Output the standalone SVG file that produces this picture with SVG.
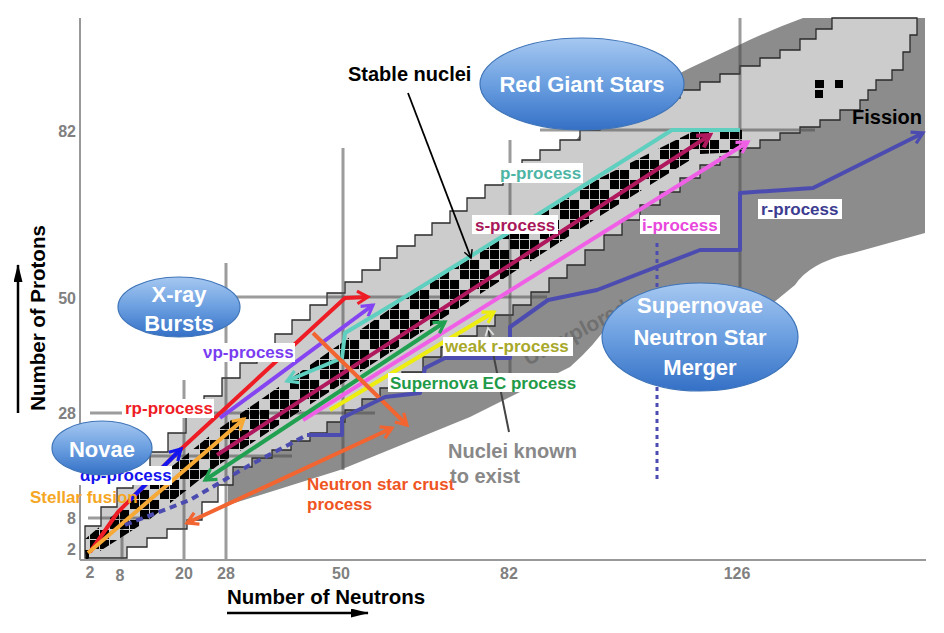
<svg xmlns="http://www.w3.org/2000/svg" width="944" height="633" viewBox="0 0 944 633">
<defs>
<style>
.t{font-family:"Liberation Sans",Arial,sans-serif;font-weight:bold}
.lbl{font-size:17px}
.tick{font-size:16px;fill:#808080}
.magic{stroke:#4a4a4a;stroke-opacity:0.55;stroke-width:3;fill:none}
.proc{fill:none;stroke-width:4;stroke-linejoin:round}
.box{fill:#ffffff}
.bub{fill:url(#bubG);stroke:#3f74b8;stroke-width:1.2}
.bt{font-family:"Liberation Sans",Arial,sans-serif;font-weight:bold;font-size:22px;fill:#ffffff;text-anchor:middle}
.sq{fill:#000}
</style>
<linearGradient id="bubG" x1="0" y1="0" x2="0" y2="1">
<stop offset="0" stop-color="#a6c8f1"/><stop offset="0.5" stop-color="#6b9fe0"/><stop offset="1" stop-color="#3470c6"/>
</linearGradient>
<pattern id="stab" patternUnits="userSpaceOnUse" x="0" y="0" width="40" height="40">
<rect class="sq" x="0" y="0" width="9" height="9"/><rect class="sq" x="10" y="0" width="9" height="9"/><rect class="sq" x="30" y="0" width="9" height="9"/>
<rect class="sq" x="0" y="10" width="9" height="9"/><rect class="sq" x="10" y="10" width="9" height="9"/><rect class="sq" x="20" y="10" width="9" height="9"/>
<rect class="sq" x="10" y="20" width="9" height="9"/><rect class="sq" x="20" y="20" width="9" height="9"/><rect class="sq" x="30" y="20" width="9" height="9"/>
<rect class="sq" x="0" y="30" width="9" height="9"/><rect class="sq" x="20" y="30" width="9" height="9"/><rect class="sq" x="30" y="30" width="9" height="9"/>
</pattern>
<marker id="mRed" viewBox="0 0 20 20" refX="16" refY="10" markerWidth="18" markerHeight="18" markerUnits="userSpaceOnUse" orient="auto-start-reverse"><path d="M4,3 L16,10 L4,17" fill="none" stroke="#ee1c25" stroke-width="3.5"/></marker>
<marker id="mBlue" viewBox="0 0 20 20" refX="16" refY="10" markerWidth="18" markerHeight="18" markerUnits="userSpaceOnUse" orient="auto-start-reverse"><path d="M4,3 L16,10 L4,17" fill="none" stroke="#1515ee" stroke-width="3.5"/></marker>
<marker id="mOrange" viewBox="0 0 20 20" refX="16" refY="10" markerWidth="18" markerHeight="18" markerUnits="userSpaceOnUse" orient="auto-start-reverse"><path d="M4,3 L16,10 L4,17" fill="none" stroke="#f6a935" stroke-width="3.5"/></marker>
<marker id="mPurple" viewBox="0 0 20 20" refX="16" refY="10" markerWidth="18" markerHeight="18" markerUnits="userSpaceOnUse" orient="auto-start-reverse"><path d="M4,3 L16,10 L4,17" fill="none" stroke="#8444f2" stroke-width="3.5"/></marker>
<marker id="mTeal" viewBox="0 0 20 20" refX="16" refY="10" markerWidth="18" markerHeight="18" markerUnits="userSpaceOnUse" orient="auto-start-reverse"><path d="M4,3 L16,10 L4,17" fill="none" stroke="#5fcfbf" stroke-width="3.5"/></marker>
<marker id="mCrim" viewBox="0 0 20 20" refX="16" refY="10" markerWidth="20" markerHeight="20" markerUnits="userSpaceOnUse" orient="auto-start-reverse"><path d="M4,3 L16,10 L4,17" fill="none" stroke="#b0185e" stroke-width="4"/></marker>
<marker id="mMag" viewBox="0 0 20 20" refX="16" refY="10" markerWidth="18" markerHeight="18" markerUnits="userSpaceOnUse" orient="auto-start-reverse"><path d="M4,3 L16,10 L4,17" fill="none" stroke="#f060e6" stroke-width="3.5"/></marker>
<marker id="mYel" viewBox="0 0 20 20" refX="16" refY="10" markerWidth="18" markerHeight="18" markerUnits="userSpaceOnUse" orient="auto-start-reverse"><path d="M4,3 L16,10 L4,17" fill="none" stroke="#eded10" stroke-width="3.5"/></marker>
<marker id="mGreen" viewBox="0 0 20 20" refX="16" refY="10" markerWidth="18" markerHeight="18" markerUnits="userSpaceOnUse" orient="auto-start-reverse"><path d="M4,3 L16,10 L4,17" fill="none" stroke="#20a050" stroke-width="3.5"/></marker>
<marker id="mNs" viewBox="0 0 20 20" refX="16" refY="10" markerWidth="18" markerHeight="18" markerUnits="userSpaceOnUse" orient="auto-start-reverse"><path d="M4,3 L16,10 L4,17" fill="none" stroke="#f26430" stroke-width="3.5"/></marker>
<marker id="mInd" viewBox="0 0 20 20" refX="16" refY="10" markerWidth="18" markerHeight="18" markerUnits="userSpaceOnUse" orient="auto-start-reverse"><path d="M4,3 L16,10 L4,17" fill="none" stroke="#4c4cb0" stroke-width="3.5"/></marker>
<marker id="mBlk" viewBox="0 0 20 20" refX="16" refY="10" markerWidth="12" markerHeight="12" markerUnits="userSpaceOnUse" orient="auto"><path d="M3,3 L16,10 L3,17" fill="none" stroke="#000" stroke-width="2.5"/></marker>
<marker id="mGry" viewBox="0 0 20 20" refX="16" refY="10" markerWidth="12" markerHeight="12" markerUnits="userSpaceOnUse" orient="auto"><path d="M3,3 L16,10 L3,17" fill="none" stroke="#dddddd" stroke-width="3"/></marker>
<marker id="mTri" viewBox="0 0 20 10" refX="19" refY="5" markerWidth="18" markerHeight="9" markerUnits="userSpaceOnUse" orient="auto"><path d="M0,0 L20,5 L0,10 Z" fill="#000"/></marker>
</defs>
<rect x="0" y="0" width="944" height="633" fill="#ffffff"/>

<g id="chart">
<path id="unexplored-region" d="M228,505 L228,445 L350,360 L450,290 L530,200 L580,135 L640,95 Q665,80 690,68 L737,46 Q770,30 803,18 L925,18 L925,233 L853,253 Q810,262 795,285 L740,330 L640,330 L610,322 Q595,345 570,367 L470,417 L340,470 Z" fill="#8c8c8c"/>
<path id="known-band" d="M85,558 L85,545 V526 H101 V507 H117 V488 H133 V470 H150 V452 H168 V433 H186 V415 H204 V396 H222 V378 H240 V363 H257 V349 H275 V334 H292 V320 H310 V305 H327 V293 H345 V282 H362 V270 H380 V258 H397 V246 H415 V235 H432 V223 H450 V211 H467 V198 H485 V185 H503 V172 H522 V160 H540 V150 H560 V140 H580 V130 H600 V122 H620 V114 H640 V106 H660 V98 H680 V90 H700 V82 H720 V74 H740 V66 H760 V58 H780 V50 H800 V39 H816 V29 H832 V18 H917 V35 H910 V52 H903 V70 H892 V80 H876 V90 H868 V100 H860 V110 H840 V120 H820 V127 H800 V133 H780 V140 H760 V148 H740 V157 H720 V165 H700 V178 H680 V192 H660 V205 H640 V220 H622 V235 H604 V250 H585 V265 H567 V278 H549 V292 H531 V305 H513 V315 H495 V326 H477 V336 H459 V347 H441 V357 H423 V372 H402 V388 H380 V399 H362 V410 H345 V422 H327 V433 H310 V441 H291 V450 H272 V458 H252 V467 H233 V485 H218 V502 H202 V520 H187 V529 H167 V538 H147 V547 H127 V558 Z" fill="#cccccc" stroke="#2a2a2a" stroke-width="1.3"/>
<text class="t" font-size="21" fill="#707070" transform="translate(528,366) rotate(-28)">Unexplored</text>
<g id="magic-lines">
<line class="magic" x1="122" y1="513" x2="122" y2="560"/>
<line class="magic" x1="184" y1="380" x2="184" y2="560"/>
<line class="magic" x1="226" y1="263" x2="226" y2="560"/>
<line class="magic" x1="343" y1="148" x2="343" y2="470"/>
<line class="magic" x1="510" y1="140" x2="510" y2="375"/>
<line class="magic" x1="740" y1="18" x2="740" y2="300"/>
<line class="magic" x1="540" y1="130" x2="815" y2="130"/>
<line class="magic" x1="233" y1="297" x2="547" y2="297"/>
<line class="magic" x1="90" y1="413" x2="375" y2="413"/>
<line class="magic" x1="135" y1="456" x2="292" y2="456"/>
<line class="magic" x1="88" y1="518" x2="150" y2="518"/>
</g>
<g id="stable-nuclei">
<path d="M84,540 L150,484 L217,430 L300,372 L400,302 L500,240 L600,178 L700,128 L742,128 L742,152 L700,154 L600,216 L500,281 L400,346 L300,411 L217,466 L150,519 L86,560 Z" fill="url(#stab)"/>
<rect x="815" y="80" width="9" height="8" fill="#000"/>
<rect x="835" y="80" width="8" height="8" fill="#000"/>
<rect x="815" y="90" width="8" height="8" fill="#000"/>
</g>
<g id="axes">
<line x1="80" y1="18" x2="80" y2="560" stroke="#999" stroke-width="2"/>
<line x1="80" y1="560" x2="926" y2="560" stroke="#999" stroke-width="2"/>
<g class="t tick" text-anchor="end">
<text x="76" y="137">82</text><text x="76" y="304">50</text><text x="76" y="419">28</text><text x="76" y="524">8</text><text x="76" y="555">2</text>
</g>
<g class="t tick" text-anchor="middle">
<text x="90" y="578">2</text><text x="120" y="581">8</text><text x="184" y="579">20</text><text x="226" y="579">28</text><text x="341" y="579">50</text><text x="509" y="579">82</text><text x="737" y="579">126</text>
</g>
<text class="t" font-size="20.5" fill="#000" x="227" y="604">Number of Neutrons</text>
<line x1="227" y1="613" x2="368" y2="613" stroke="#000" stroke-width="2.5" marker-end="url(#mTri)"/>
<text class="t" font-size="20.5" fill="#000" text-anchor="middle" transform="translate(45,318) rotate(-90)">Number of Protons</text>
<line x1="18" y1="413" x2="18" y2="265" stroke="#000" stroke-width="2.5" marker-end="url(#mTri)"/>
</g>
</g>

<g id="connectors">
<path class="proc" stroke="#ee1c25" d="M90,552 L118,512 L180,450 L345,298 L368,297" marker-end="url(#mRed)"/>
<path class="proc" stroke="#1515ee" d="M130,500 L181,449" marker-end="url(#mBlue)"/>
<path class="proc" stroke="#f6a935" d="M88,553 L244,419" marker-end="url(#mOrange)"/>
<path class="proc" stroke="#8444f2" d="M220,418 L373,305" marker-end="url(#mPurple)"/>
<path class="proc" stroke="#5fcfbf" d="M740,130 L672,130 L545,210 L400,300 L345,333 L342,358 L287,381" marker-end="url(#mTeal)"/>
<path class="proc" stroke="#b0185e" stroke-width="5" d="M217,455 L710,135" marker-end="url(#mCrim)"/>
<path class="proc" stroke="#f060e6" d="M303,420 L748,142" marker-end="url(#mMag)"/>
<path class="proc" stroke="#eded10" d="M330,410 L494,312" marker-end="url(#mYel)"/>
<path class="proc" stroke="#20a050" d="M205,480 L445,322" marker-start="url(#mGreen)" marker-end="url(#mGreen)"/>
<path class="proc" stroke="#f26430" stroke-width="3.5" d="M313,333 L407,425" marker-end="url(#mNs)"/>
<path class="proc" stroke="#f26430" stroke-width="3.5" d="M187,523 L392,428" marker-start="url(#mNs)" marker-end="url(#mNs)"/>
<path class="proc" stroke="#4c4cb0" stroke-width="3.5" stroke-dasharray="7 5" d="M125,525 L190,500 L250,465 L307,435"/>
<path class="proc" stroke="#4c4cb0" stroke-width="3.5" d="M307,435 L342,435 L342,418 L385,397 L420,393 L425,368 L445,358 L510,358 L510,327 L548,300 L597,290 L700,250 L740,250 L740,193 L813,188 L923,133" marker-end="url(#mInd)"/>
<line x1="657" y1="243" x2="657" y2="482" stroke="#4c4cb0" stroke-width="3" stroke-dasharray="4 4"/>
<line x1="408" y1="93" x2="471" y2="258" stroke="#000" stroke-width="1.8" marker-end="url(#mBlk)"/>
<line x1="509" y1="432" x2="488" y2="328" stroke="#444" stroke-width="2" marker-end="url(#mGry)"/>
</g>

<g id="labels">
<g id="lbl-p"><rect class="box" x="497" y="163" width="86" height="20"/><text class="t lbl" fill="#4db5a5" x="500" y="179">p-process</text></g>
<g id="lbl-s"><rect class="box" x="472" y="215" width="86" height="19"/><text class="t lbl" fill="#a8185a" x="475" y="231">s-process</text></g>
<g id="lbl-i"><rect class="box" x="640" y="215" width="80" height="19"/><text class="t lbl" fill="#e848dc" x="642" y="231">i-process</text></g>
<g id="lbl-r"><rect class="box" x="758" y="199" width="84" height="20"/><text class="t lbl" fill="#3c3c90" x="761" y="215">r-process</text></g>
<g id="lbl-weakr"><rect class="box" x="443" y="337" width="130" height="19"/><text class="t lbl" fill="#a8a82a" x="445" y="352">weak r-process</text></g>
<g id="lbl-ec"><rect class="box" x="388" y="373" width="189" height="19"/><text class="t lbl" fill="#1f9a48" x="390" y="389">Supernova EC process</text></g>
<g id="lbl-vp"><rect class="box" x="200" y="343" width="95" height="19"/><text class="t lbl" fill="#7a3cf0" x="203" y="358">νp-process</text></g>
<g id="lbl-rp"><rect class="box" x="122" y="399" width="92" height="19"/><text class="t lbl" fill="#ee1c25" x="125" y="414">rp-process</text></g>
<g id="lbl-ap"><rect class="box" x="78" y="466" width="94" height="19"/><text class="t lbl" fill="#1515ee" x="80" y="481">αp-process</text></g>
<text class="t lbl" fill="#f5a623" x="30" y="503">Stellar fusion</text>
<text class="t lbl" fill="#ef5523" x="307" y="490">Neutron star crust</text>
<text class="t lbl" fill="#ef5523" x="307" y="510">process</text>
<text class="t" font-size="20" fill="#888888" x="448" y="458">Nuclei known</text>
<text class="t" font-size="20" fill="#888888" x="450" y="483">to exist</text>
<text class="t" font-size="20" fill="#000" x="348" y="81">Stable nuclei</text>
<text class="t" font-size="20" fill="#000" x="852" y="124">Fission</text>
</g>

<g id="node-redgiant"><ellipse class="bub" cx="582" cy="84" rx="102" ry="46"/><text class="bt" x="582" y="92">Red Giant Stars</text></g>
<g id="node-xray"><ellipse class="bub" cx="179" cy="307" rx="61" ry="30"/><text class="bt" x="179" y="302">X-ray</text><text class="bt" x="179" y="331">Bursts</text></g>
<g id="node-novae"><ellipse class="bub" cx="102" cy="448" rx="50" ry="27"/><text class="bt" x="102" y="457">Novae</text></g>
<g id="node-supernovae"><ellipse class="bub" cx="700" cy="337" rx="98" ry="54"/><text class="bt" x="700" y="313">Supernovae</text><text class="bt" x="700" y="345">Neutron Star</text><text class="bt" x="700" y="375">Merger</text></g>
</svg>
